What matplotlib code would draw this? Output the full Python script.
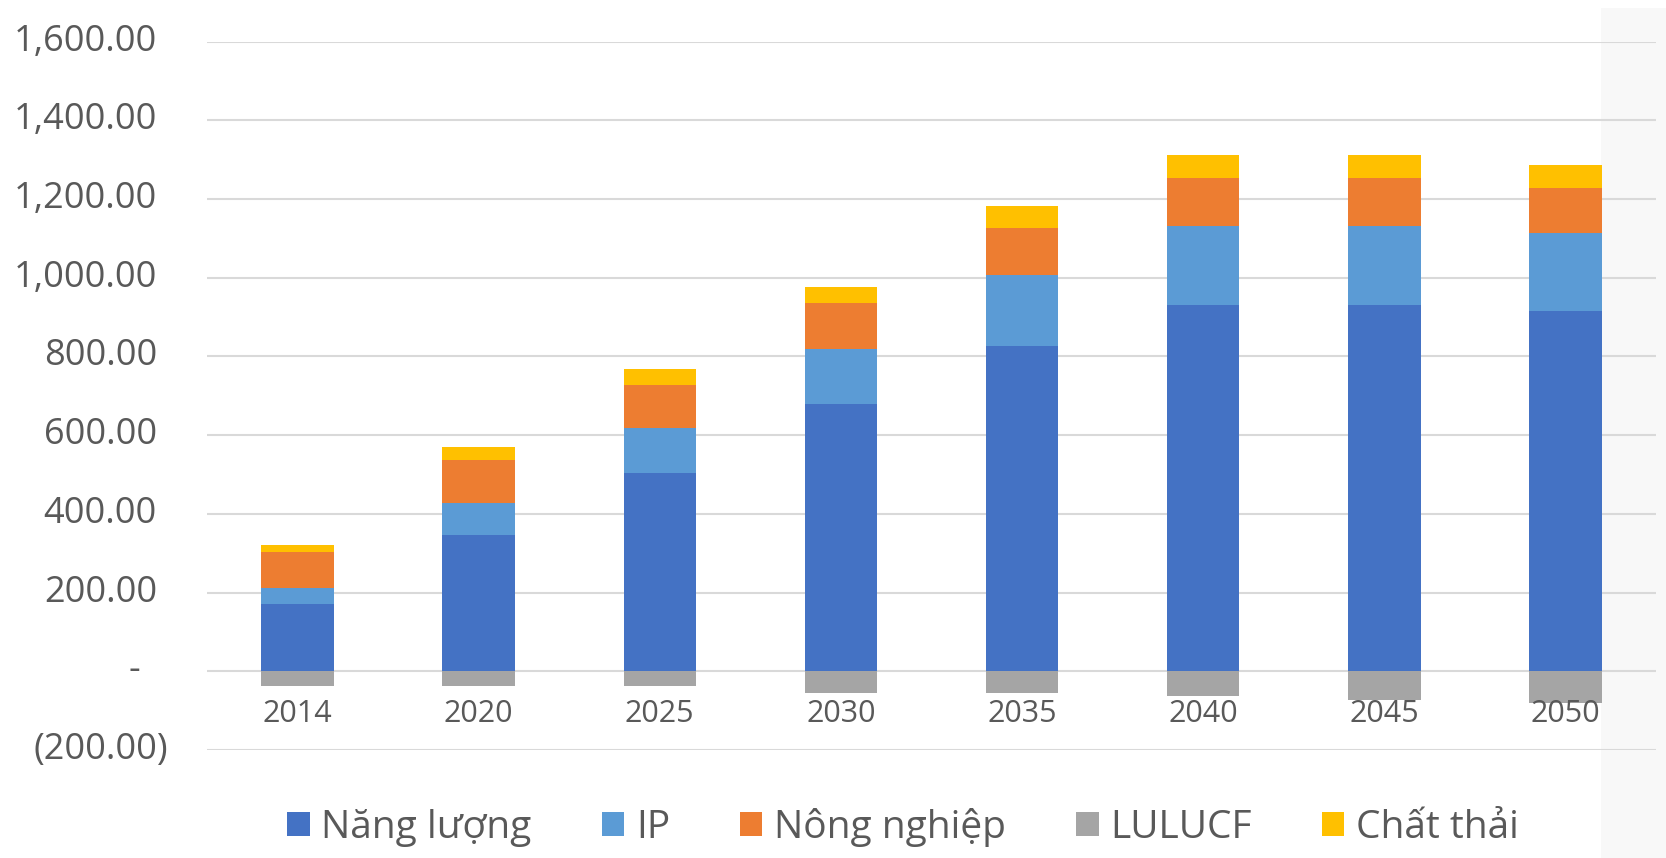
import matplotlib
matplotlib.use('Agg')
from matplotlib import pyplot as plt
from matplotlib.patches import Rectangle
from matplotlib import transforms
import numpy as np

plt.rcParams['font.family'] = ['Open Sans', 'DejaVu Sans']

# Data (Mt CO2e)
years = ['2014', '2020', '2025', '2030', '2035', '2040', '2045', '2050']
nang_luong = [171, 345, 503, 678, 826, 931, 931, 915]
ip = [41, 83, 116, 141, 181, 199, 199, 198]
nong_nghiep = [92, 108, 109, 116, 118, 124, 124, 116]
lulucf = [-37, -37, -37, -55, -55, -63, -72, -80]
chat_thai = [17, 34, 41, 41, 57, 58, 58, 58]

labels = ['Năng lượng', 'IP', 'Nông nghiệp', 'LULUCF', 'Chất thải']
colors = ['#4472C4', '#5B9BD5', '#ED7D31', '#A5A5A5', '#FFC000']

y_ticks = [-200, 0, 200, 400, 600, 800, 1000, 1200, 1400, 1600]
text_color = '#595959'

fig = plt.figure(figsize=(16.66, 8.58), dpi=100)
fig.patch.set_facecolor('white')

# light grey strip on the right edge of the picture
fig.patches.append(Rectangle((1601 / 1666, 0), 1 - 1601 / 1666, 1 - 7.5 / 858,
                             transform=fig.transFigure, facecolor='#F8F8F8',
                             edgecolor='none', zorder=-10))

ax = fig.add_axes([207 / 1666, 1 - 750 / 858, (1656 - 207) / 1666, (750 - 41.5) / 858])
ax.set_facecolor('none')

x = np.arange(len(years))
w = 0.4

b1 = np.array(nang_luong)
b2 = b1 + np.array(ip)
b3 = b2 + np.array(nong_nghiep)

ax.bar(x, nang_luong, w, color=colors[0], label=labels[0], zorder=3)
ax.bar(x, ip, w, bottom=b1, color=colors[1], label=labels[1], zorder=3)
ax.bar(x, nong_nghiep, w, bottom=b2, color=colors[2], label=labels[2], zorder=3)
ax.bar(x, lulucf, w, color=colors[3], label=labels[3], zorder=3)
ax.bar(x, chat_thai, w, bottom=b3, color=colors[4], label=labels[4], zorder=3)

ax.set_xlim(-0.5, len(years) - 0.5)
ax.set_ylim(-200, 1600)
ax.set_yticks(y_ticks)
ax.set_xticks(x)
ax.yaxis.grid(True, color='#D9D9D9', linewidth=1.5, zorder=0)
ax.set_axisbelow(True)
for s in ax.spines.values():
    s.set_visible(False)
ax.tick_params(axis='both', length=0, labelleft=False, labelbottom=False)

# category labels sit just under the zero line, as in Excel
below = transforms.offset_copy(ax.transData, fig=fig, x=0, y=-43, units='dots')
for xi, yr in zip(x, years):
    ax.text(xi, 0, yr, transform=below, ha='center', va='center',
            fontsize=22, color=text_color, clip_on=False)

# accounting-style y labels, placed like Excel does
trans = transforms.blended_transform_factory(fig.transFigure, ax.transData)
for v in y_ticks:
    if v == 0:
        ax.text(140 / 1666, v, '-', transform=trans, ha='right', va='center',
                fontsize=26, color=text_color, clip_on=False)
    elif v < 0:
        ax.text(168 / 1666, v, '({:,.2f})'.format(-v), transform=trans, ha='right',
                va='center', fontsize=26, color=text_color, clip_on=False)
    else:
        ax.text(157 / 1666, v, '{:,.2f}'.format(v), transform=trans, ha='right',
                va='center', fontsize=26, color=text_color, clip_on=False)

leg = fig.legend(loc='center', bbox_to_anchor=(0.542, 0.036), ncol=5, frameon=False,
                 fontsize=28, handlelength=0.58, handleheight=0.58, handletextpad=0.3,
                 columnspacing=1.8, borderaxespad=0)
for t in leg.get_texts():
    t.set_color(text_color)

plt.savefig('out.png', dpi=100, facecolor=fig.get_facecolor())
plt.close()
